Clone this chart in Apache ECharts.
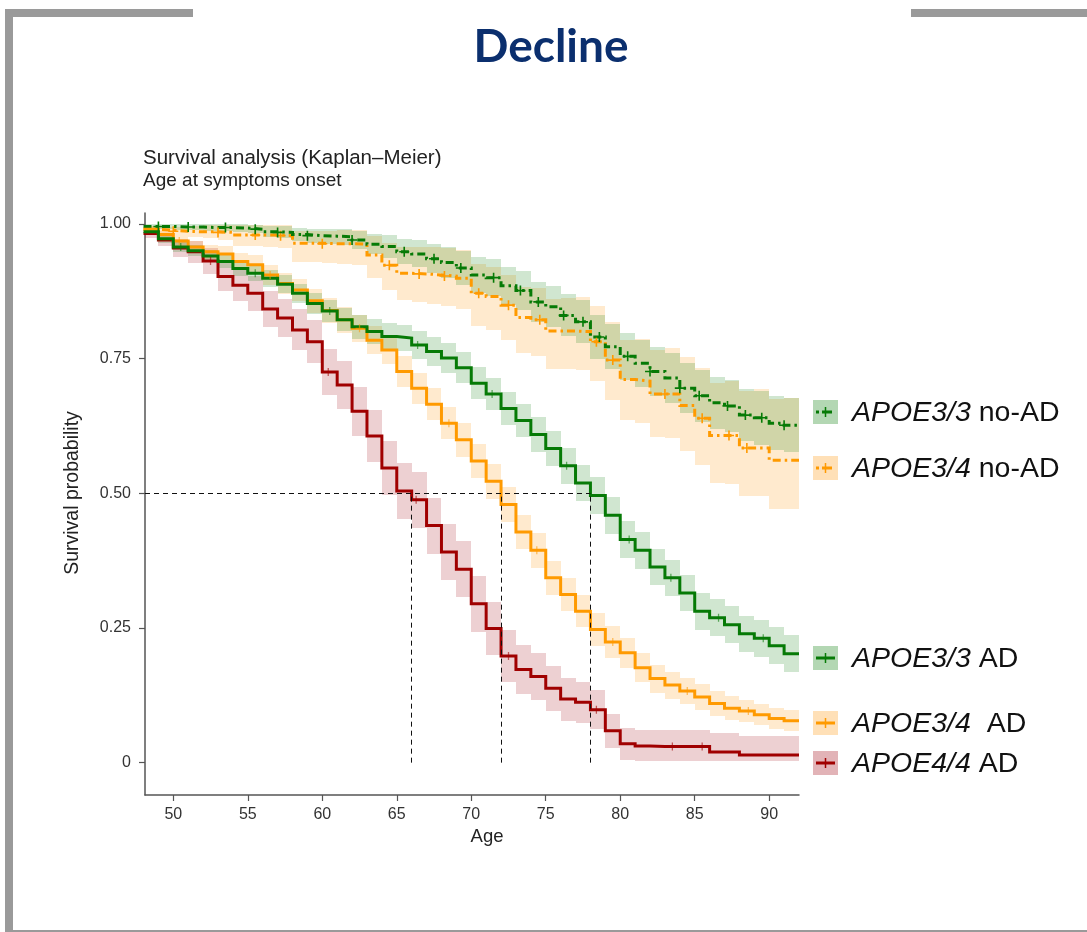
<!DOCTYPE html>
<html>
<head>
<meta charset="utf-8">
<title>Decline – Kaplan–Meier survival by APOE genotype</title>
<script src="https://cdn.jsdelivr.net/npm/echarts@6/dist/echarts.min.js"></script>
<style>
  html, body { margin: 0; padding: 0; background: #ffffff; }
  #main { width: 1087px; height: 932px; }
</style>
</head>
<body>
<div id="main"></div>
<script>
// ---------------------------------------------------------------
// Kaplan–Meier estimates: survival probability at each age (step
// holds until the next age); the last value holds to age 92.
// ---------------------------------------------------------------
const ages = [48,49,50,51,52,53,54,55,56,57,58,59,60,61,62,63,64,65,66,67,68,69,
              70,71,72,73,74,75,76,77,78,79,80,81,82,83,84,85,86,87,88,89,90,91];
const ageEnd = 92;

// APOE3/3 no-AD
const e33NoAd = [0.995,0.995,0.994,0.994,0.993,0.993,0.992,0.990,0.985,0.984,0.980,0.978,
                 0.977,0.976,0.970,0.962,0.958,0.948,0.944,0.935,0.928,0.918,0.905,0.900,
                 0.885,0.876,0.855,0.846,0.830,0.818,0.790,0.772,0.754,0.741,0.726,0.714,
                 0.695,0.681,0.668,0.662,0.645,0.640,0.630,0.626];
const e33NoAdCi = [0.004,0.004,0.005,0.005,0.006,0.006,0.007,0.008,0.010,0.011,0.012,0.013,
                   0.014,0.015,0.017,0.019,0.021,0.023,0.025,0.027,0.029,0.031,0.033,0.034,
                   0.035,0.036,0.037,0.038,0.039,0.040,0.041,0.042,0.043,0.044,0.045,0.046,
                   0.047,0.048,0.048,0.049,0.049,0.050,0.050,0.050];

// APOE3/4 no-AD (asymmetric interval: distance below / above the estimate)
const e34NoAd = [0.990,0.988,0.986,0.985,0.985,0.984,0.979,0.979,0.979,0.978,0.964,0.964,
                 0.963,0.963,0.962,0.942,0.923,0.908,0.907,0.905,0.903,0.899,0.871,0.865,
                 0.849,0.826,0.822,0.801,0.801,0.800,0.781,0.747,0.711,0.708,0.684,0.684,
                 0.663,0.639,0.607,0.607,0.584,0.584,0.561,0.561];
const e34NoAdCiLo = [0.005,0.006,0.008,0.010,0.012,0.014,0.020,0.021,0.022,0.023,0.034,0.035,
                     0.036,0.037,0.038,0.042,0.046,0.050,0.052,0.054,0.055,0.057,0.060,0.062,
                     0.064,0.066,0.068,0.070,0.070,0.071,0.072,0.074,0.076,0.078,0.080,0.082,
                     0.084,0.086,0.088,0.089,0.090,0.090,0.091,0.091];
const e34NoAdCiHi = [0.005,0.006,0.008,0.010,0.012,0.014,0.018,0.018,0.018,0.019,0.022,0.023,
                     0.024,0.025,0.026,0.035,0.042,0.049,0.050,0.051,0.052,0.053,0.054,0.055,
                     0.056,0.057,0.058,0.060,0.062,0.064,0.067,0.070,0.074,0.078,0.082,0.086,
                     0.090,0.094,0.098,0.102,0.106,0.110,0.113,0.115];

// APOE3/3 AD
const e33Ad = [0.985,0.972,0.957,0.950,0.940,0.930,0.917,0.908,0.899,0.888,0.871,0.852,
               0.838,0.822,0.809,0.800,0.791,0.788,0.775,0.763,0.751,0.733,0.704,0.684,
               0.657,0.635,0.609,0.583,0.551,0.519,0.496,0.459,0.414,0.394,0.363,0.343,
               0.315,0.281,0.269,0.256,0.239,0.231,0.217,0.202];
const e33AdCi = [0.005,0.007,0.009,0.010,0.011,0.012,0.014,0.015,0.016,0.017,0.018,0.019,
                 0.020,0.021,0.022,0.023,0.024,0.025,0.026,0.027,0.028,0.029,0.030,0.030,
                 0.031,0.031,0.032,0.032,0.033,0.033,0.034,0.034,0.034,0.034,0.034,0.034,
                 0.034,0.034,0.034,0.034,0.034,0.034,0.034,0.034];

// APOE3/4 AD
const e34Ad = [0.990,0.980,0.968,0.957,0.948,0.944,0.930,0.924,0.905,0.889,0.877,0.857,
               0.839,0.822,0.806,0.784,0.766,0.726,0.695,0.665,0.630,0.599,0.560,0.522,
               0.479,0.428,0.394,0.343,0.312,0.281,0.247,0.224,0.204,0.176,0.156,0.144,
               0.133,0.122,0.110,0.101,0.096,0.089,0.082,0.078];
const e34AdCi = [0.005,0.007,0.009,0.011,0.013,0.014,0.016,0.018,0.019,0.020,0.021,0.022,
                 0.023,0.024,0.025,0.026,0.027,0.028,0.029,0.030,0.030,0.031,0.031,0.032,
                 0.032,0.032,0.032,0.032,0.031,0.030,0.030,0.029,0.028,0.027,0.026,0.025,
                 0.025,0.024,0.023,0.022,0.021,0.020,0.020,0.020];

// APOE4/4 AD
const e44Ad = [0.982,0.970,0.955,0.948,0.931,0.902,0.886,0.871,0.842,0.825,0.803,0.781,
               0.725,0.701,0.652,0.606,0.547,0.504,0.488,0.440,0.391,0.359,0.295,0.249,
               0.198,0.173,0.160,0.138,0.118,0.112,0.098,0.059,0.035,0.031,0.030,0.030,
               0.030,0.030,0.020,0.020,0.014,0.014,0.014,0.014];
const e44AdCi = [0.008,0.012,0.016,0.020,0.024,0.027,0.030,0.032,0.034,0.036,0.038,0.040,
                 0.042,0.044,0.046,0.048,0.050,0.052,0.052,0.052,0.052,0.052,0.052,0.050,
                 0.048,0.046,0.044,0.042,0.040,0.038,0.036,0.032,0.030,0.030,0.030,0.030,
                 0.030,0.030,0.035,0.035,0.035,0.035,0.035,0.035];

// Censoring marks (ages) on each curve
const e33NoAdCensor = [49,51,53.5,55.5,57,59,62,65.5,67.5,69.3,71.5,73.3,74.5,76.2,77.5,78.6,80.5,82,84,85.3,87.2,88.4,89.5,91];
const e34NoAdCensor = [50,53,55.5,57.2,60,64.5,66.5,68.2,70.5,72.5,74.6,78.4,79.5,83,85.5,87.3,88.5];
const e33AdCensor   = [50.5,55.5,60.5,66.4,71.4,76.4,80.6,83.4,86.6,89.6];
const e34AdCensor   = [50.4,56.5,62.5,68.5,74.4,79.5,84.5,88.6];
const e44AdCensor   = [52.5,60.4,66.3,72.5,78.4,83.5,85.5];

// Median survival ages (where each AD curve crosses 0.5)
const medianAges = [66, 72, 78];
const medianLevel = 0.5;

// Axis ticks
const xTicks = [50,55,60,65,70,75,80,85,90];
const yTicks = [0, 0.25, 0.5, 0.75, 1];
const yTickLabels = ['0', '0.25', '0.50', '0.75', '1.00'];

// Legend entries: genotype (italic) + group
const legendItems = [
  { key: 'e33NoAd', geno: 'APOE3/3', group: 'no-AD' },
  { key: 'e34NoAd', geno: 'APOE3/4', group: 'no-AD' },
  { key: 'e33Ad',   geno: 'APOE3/3', group: 'AD' },
  { key: 'e34Ad',   geno: 'APOE3/4', group: ' AD' },
  { key: 'e44Ad',   geno: 'APOE4/4', group: 'AD' }
];

// ---------------------------------------------------------------
const GREEN = '#067a06', ORANGE = '#ff9a00', RED = '#a00000';
const FONT = '"Liberation Sans", Arial, sans-serif';

const curves = {
  e33NoAd: { name: 'APOE3/3 no-AD', v: e33NoAd, lo: e33NoAdCi, hi: e33NoAdCi, censor: e33NoAdCensor,
             color: GREEN, band: 'rgba(20,130,20,0.20)', legendFill: 'rgba(20,130,20,0.32)', dashed: true },
  e34NoAd: { name: 'APOE3/4 no-AD', v: e34NoAd, lo: e34NoAdCiLo, hi: e34NoAdCiHi, censor: e34NoAdCensor,
             color: ORANGE, band: 'rgba(255,160,30,0.22)', legendFill: 'rgba(255,160,30,0.32)', dashed: true },
  e33Ad:   { name: 'APOE3/3 AD', v: e33Ad, lo: e33AdCi, hi: e33AdCi, censor: e33AdCensor,
             color: GREEN, band: 'rgba(20,130,20,0.20)', legendFill: 'rgba(20,130,20,0.32)', dashed: false },
  e34Ad:   { name: 'APOE3/4 AD', v: e34Ad, lo: e34AdCi, hi: e34AdCi, censor: e34AdCensor,
             color: ORANGE, band: 'rgba(255,160,30,0.22)', legendFill: 'rgba(255,160,30,0.32)', dashed: false },
  e44Ad:   { name: 'APOE4/4 AD', v: e44Ad, lo: e44AdCi, hi: e44AdCi, censor: e44AdCensor,
             color: RED, band: 'rgba(165,20,30,0.20)', legendFill: 'rgba(165,20,30,0.32)', dashed: false }
};

const drawOrder = ['e44Ad', 'e34NoAd', 'e33NoAd', 'e34Ad', 'e33Ad'];

function valueAt(v, age) {
  let i = Math.floor(age) - ages[0];
  if (i < 0) i = 0;
  if (i > v.length - 1) i = v.length - 1;
  return v[i];
}

const series = [];

// Confidence bands: one rectangle per step interval
drawOrder.forEach(function (k) {
  const c = curves[k];
  const data = ages.map(function (a, i) {
    const x1 = i < ages.length - 1 ? ages[i + 1] : ageEnd;
    const lo = Math.max(0.004, c.v[i] - c.lo[i]);
    const hi = Math.min(1, c.v[i] + c.hi[i]);
    return [a, x1, lo, hi];
  });
  series.push({
    type: 'custom',
    name: c.name + ' CI',
    data: data,
    encode: { x: [0, 1], y: [2, 3] },
    silent: true,
    z: 1,
    renderItem: function (params, api) {
      const p0 = api.coord([api.value(0), api.value(3)]);
      const p1 = api.coord([api.value(1), api.value(2)]);
      const x0 = Math.round(p0[0]), x1 = Math.round(p1[0]);
      const y0 = Math.round(p0[1]), y1 = Math.round(p1[1]);
      const shape = echarts.graphic.clipRectByRect(
        { x: x0, y: y0, width: x1 - x0, height: y1 - y0 },
        { x: params.coordSys.x, y: params.coordSys.y,
          width: params.coordSys.width, height: params.coordSys.height });
      if (!shape) return null;
      return { type: 'rect', shape: shape, style: { fill: c.band }, silent: true };
    }
  });
});

// Survival step lines
drawOrder.forEach(function (k) {
  const c = curves[k];
  const data = ages.map(function (a, i) { return [a, c.v[i]]; });
  data.push([ageEnd, c.v[c.v.length - 1]]);
  series.push({
    type: 'line',
    name: c.name,
    data: data,
    step: 'end',
    showSymbol: false,
    symbol: 'none',
    clip: true,
    z: 3,
    lineStyle: {
      color: c.color,
      width: 3,
      type: c.dashed ? [8, 4, 2.5, 4] : 'solid',
      cap: 'butt',
      join: 'miter'
    },
    emphasis: { disabled: true }
  });
});

// Censoring "+" marks
const plusPath = 'path://M4.2,0H5.8V4.2H10V5.8H5.8V10H4.2V5.8H0V4.2H4.2Z';
drawOrder.forEach(function (k) {
  const c = curves[k];
  series.push({
    type: 'scatter',
    name: c.name + ' censored',
    data: c.censor.map(function (a) { return [a, valueAt(c.v, a)]; }),
    symbol: plusPath,
    symbolSize: c.dashed ? 10 : 8,
    itemStyle: { color: c.color, opacity: c.dashed ? 1 : 0.6 },
    silent: true,
    z: 4
  });
});

// Median reference lines
const xMin = 48.1, xMax = 92;
const medianLines = [[{ coord: [xMin, medianLevel] }, { coord: [medianAges[medianAges.length - 1], medianLevel] }]];
medianAges.forEach(function (a) {
  medianLines.push([{ coord: [a, 0] }, { coord: [a, medianLevel] }]);
});
series.push({
  type: 'line',
  name: 'median',
  data: [],
  silent: true,
  markLine: {
    silent: true,
    symbol: 'none',
    animation: false,
    label: { show: false },
    lineStyle: { color: '#111', width: 1, type: [5, 4] },
    emphasis: { disabled: true },
    data: medianLines
  },
  z: 2
});

// ---------------------------------------------------------------
// Page decoration, headings and legend
// ---------------------------------------------------------------
const FRAME = '#9a9a9a';
const graphic = [
  { type: 'rect', shape: { x: 5, y: 9, width: 188, height: 8 }, style: { fill: FRAME }, silent: true },
  { type: 'rect', shape: { x: 5, y: 9, width: 8, height: 923 }, style: { fill: FRAME }, silent: true },
  { type: 'rect', shape: { x: 911, y: 9, width: 176, height: 8 }, style: { fill: FRAME }, silent: true },
  { type: 'rect', shape: { x: 5, y: 930, width: 1082, height: 2 }, style: { fill: FRAME }, silent: true },
  { type: 'text', x: 551, y: 47, silent: true,
    style: { text: 'Decline', fill: '#0b2f6e', font: 'bold 46px Lato, "Open Sans", sans-serif',
             align: 'center', verticalAlign: 'middle' } },
  { type: 'text', x: 143, y: 158, silent: true,
    style: { text: 'Survival analysis (Kaplan–Meier)', fill: '#222',
             font: '20.5px ' + FONT, verticalAlign: 'middle' } },
  { type: 'text', x: 143, y: 181, silent: true,
    style: { text: 'Age at symptoms onset', fill: '#222',
             font: '19px ' + FONT, verticalAlign: 'middle' } }
];

const legendY = [412, 468, 658, 723, 763];
legendItems.forEach(function (it, i) {
  const c = curves[it.key];
  const cy = legendY[i];
  graphic.push({ type: 'rect', shape: { x: 813, y: cy - 12, width: 25, height: 24 },
                 style: { fill: c.legendFill }, silent: true });
  graphic.push({ type: 'line', shape: { x1: 816, y1: cy, x2: 835, y2: cy },
                 style: { stroke: c.color, lineWidth: 3, lineDash: c.dashed ? [3, 3, 7, 0] : null },
                 silent: true });
  graphic.push({ type: 'line', shape: { x1: 825.5, y1: cy - 5, x2: 825.5, y2: cy + 5 },
                 style: { stroke: c.color, lineWidth: 1.5 }, silent: true });
  graphic.push({ type: 'text', x: 852, y: cy + 1, silent: true,
    style: {
      text: '{i|' + it.geno + '}{n| ' + it.group + '}',
      verticalAlign: 'middle',
      rich: {
        i: { fontStyle: 'italic', fontSize: 28.5, fontFamily: FONT, fill: '#111' },
        n: { fontSize: 28.5, fontFamily: FONT, fill: '#111' }
      }
    } });
});

const AXIS = '#555';
const option = {
  animation: false,
  backgroundColor: '#ffffff',
  grid: { left: 145, right: 288, top: 213, bottom: 137, containLabel: false },
  xAxis: {
    type: 'value',
    min: xMin,
    max: xMax,
    name: 'Age',
    nameLocation: 'middle',
    nameGap: 31,
    nameTextStyle: { fontSize: 18.5, color: '#222', fontFamily: FONT, padding: [0, 0, 0, 30] },
    splitLine: { show: false },
    axisLine: { show: true, onZero: false, lineStyle: { color: AXIS, width: 1.5 } },
    axisTick: { show: true, length: 6, lineStyle: { color: AXIS, width: 1.2 }, customValues: xTicks },
    axisLabel: { show: true, margin: 12, fontSize: 16, color: '#333',
                 fontFamily: FONT, customValues: xTicks }
  },
  yAxis: {
    type: 'value',
    min: -0.06,
    max: 1.02,
    name: 'Survival probability',
    nameLocation: 'middle',
    nameGap: 62,
    nameRotate: 90,
    nameTextStyle: { fontSize: 19.5, color: '#222', fontFamily: FONT, padding: [0, 0, 0, 22] },
    splitLine: { show: false },
    axisLine: { show: true, onZero: false, lineStyle: { color: AXIS, width: 1.5 } },
    axisTick: { show: true, length: 6, lineStyle: { color: AXIS, width: 1.2 }, customValues: yTicks },
    axisLabel: {
      show: true, margin: 14, fontSize: 16, color: '#333',
      fontFamily: FONT,
      customValues: yTicks,
      formatter: function (val) {
        const i = yTicks.findIndex(function (t) { return Math.abs(t - val) < 1e-9; });
        return i >= 0 ? yTickLabels[i] : '';
      }
    }
  },
  tooltip: { show: false },
  graphic: graphic,
  series: series
};

const chart = echarts.init(document.getElementById('main'), null, { renderer: 'canvas' });
chart.setOption(option);
</script>
</body>
</html>
